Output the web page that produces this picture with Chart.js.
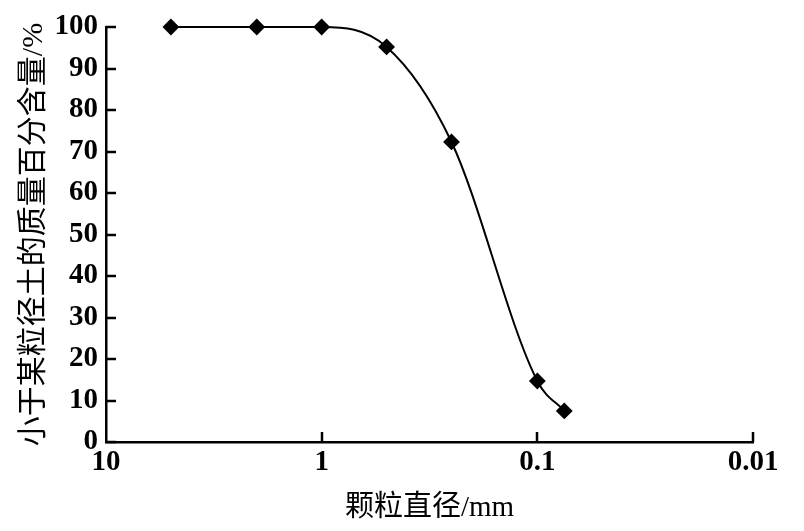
<!DOCTYPE html>
<html>
<head>
<meta charset="utf-8">
<script src="https://cdn.jsdelivr.net/npm/chart.js@4.4.0/dist/chart.umd.min.js"></script>
<style>
  html, body { margin: 0; padding: 0; background: #fff; }
  #wrap { width: 804px; height: 531px; }
</style>
</head>
<body>
<div id="wrap"><canvas id="chart" width="804" height="531"></canvas></div>
<script>
// grain size distribution (particle diameter in mm, percent finer)
const diameters = [5, 2, 1, 0.5, 0.25, 0.1, 0.075];
const percentFiner = [100, 100, 100, 95.2, 72.3, 14.7, 7.5];
const xTickValues = [10, 1, 0.1, 0.01];
const xTickLabels = ['10', '1', '0.1', '0.01'];
const xTitle = '颗粒直径/mm';
const yTitle = '小于某粒径土的质量百分含量/%';

const FONT = '"Liberation Serif", "Noto Sans CJK SC", serif';

// inward tick marks, like the printed figure
const innerTicks = {
  id: 'innerTicks',
  afterDraw(chart) {
    const { ctx, chartArea, scales } = chart;
    ctx.save();
    ctx.strokeStyle = '#000';
    ctx.lineWidth = 2.5;
    const len = 10;
    scales.y.ticks.forEach(t => {
      const py = Math.round(scales.y.getPixelForValue(t.value));
      ctx.beginPath();
      ctx.moveTo(chartArea.left, py);
      ctx.lineTo(chartArea.left + len, py);
      ctx.stroke();
    });
    scales.x.ticks.forEach(t => {
      const px = Math.round(scales.x.getPixelForValue(t.value));
      if (Math.abs(px - chartArea.left) < 2) return;
      ctx.beginPath();
      ctx.moveTo(px, chartArea.bottom);
      ctx.lineTo(px, chartArea.bottom - len);
      ctx.stroke();
    });
    ctx.restore();
  }
};

const points = diameters.map((d, i) => ({ x: d, y: percentFiner[i] }));

new Chart(document.getElementById('chart'), {
  type: 'line',
  data: {
    datasets: [{
      data: points,
      borderColor: '#000',
      backgroundColor: '#000',
      borderWidth: 2,
      cubicInterpolationMode: 'monotone',
      pointStyle: 'rectRot',
      pointRadius: 7,
      pointHoverRadius: 7,
      clip: false
    }]
  },
  options: {
    responsive: false,
    animation: false,
    layout: { padding: { left: 0, right: 51, top: 27, bottom: 0 } },
    plugins: { legend: { display: false }, tooltip: { enabled: false } },
    scales: {
      x: {
        type: 'logarithmic',
        reverse: true,
        min: 0.01,
        max: 10,
        afterBuildTicks: s => { s.ticks = xTickValues.map(v => ({ value: v })); },
        afterFit: s => { s.height = 89; },
        ticks: {
          color: '#000',
          font: { family: FONT, size: 29, weight: 'bold' },
          padding: 3,
          maxRotation: 0,
          autoSkip: false,
          callback: v => xTickLabels[xTickValues.indexOf(v)]
        },
        grid: { drawOnChartArea: false, drawTicks: false },
        border: { color: '#000', width: 2.5 },
        title: {
          display: true,
          text: xTitle,
          color: '#000',
          font: { family: FONT, size: 29 },
          padding: { top: 0, bottom: 5 }
        }
      },
      y: {
        min: 0,
        max: 100,
        afterFit: s => { s.width = 106; },
        ticks: {
          stepSize: 10,
          color: '#000',
          font: { family: FONT, size: 29, weight: 'bold' },
          padding: 8
        },
        grid: { drawOnChartArea: false, drawTicks: false },
        border: { color: '#000', width: 2.5 },
        title: {
          display: true,
          text: yTitle,
          color: '#000',
          font: { family: FONT, size: 30 },
          padding: { top: 16, bottom: 0 }
        }
      }
    }
  },
  plugins: [innerTicks]
});
</script>
</body>
</html>
